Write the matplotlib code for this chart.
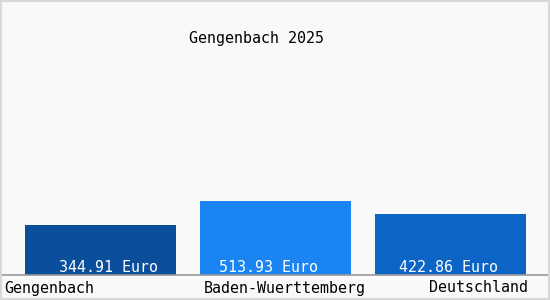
import matplotlib
matplotlib.use('Agg')
import matplotlib.pyplot as plt
from matplotlib.patches import Rectangle

# Daten
title = 'Gengenbach 2025'
categories = ['Gengenbach', 'Baden-Wuerttemberg', 'Deutschland']
values = [344.91, 513.93, 422.86]
value_labels = ['344.91 Euro', '513.93 Euro', '422.86 Euro']
colors = ['#0b4f9c', '#1a84f2', '#0c64c4']

plt.rcParams['font.family'] = ['DejaVu Sans Mono']

fig = plt.figure(figsize=(5.5, 3), dpi=100, facecolor='#f9f9f9')
fig.patches.append(Rectangle((0.001, 0.002), 0.997, 0.995, transform=fig.transFigure,
                             fill=False, edgecolor='#d8d8d8', linewidth=1.5))

# Achse: unten bei y=275 px, oben am Rand
ax = fig.add_axes([0, 25 / 300, 1, 275 / 300])
ax.set_facecolor('none')
ax.set_xlim(0, 550)
ax.set_ylim(0, 275 * 513.93 / 74)
for s in ax.spines.values():
    s.set_visible(False)
ax.set_xticks([])
ax.set_yticks([])

x = [100.5, 275.5, 450.5]
ax.bar(x, values, width=151, color=colors)
ax.axhline(0, color='#999999', linewidth=1.2, clip_on=False, zorder=3)

# Wertebeschriftungen (weiss, unten im Balken)
offsets = [8, -7, -2]
for xi, lab, off in zip(x, value_labels, offsets):
    ax.text(xi + off, 7 * 513.93 / 74, lab, color='white', ha='center', va='center',
            fontsize=10.8)

# Kategorien unter der Achse
fig.text(4 / 550, 1 - 288 / 300, categories[0], ha='left', va='center', fontsize=10.8)
fig.text(284.5 / 550, 1 - 288 / 300, categories[1], ha='center', va='center', fontsize=10.8)
fig.text(528 / 550, 1 - 288 / 300, categories[2], ha='right', va='center', fontsize=10.8)

fig.text(256.5 / 550, 1 - 38 / 300, title, ha='center', va='center', fontsize=10.8)

fig.savefig('out.png', dpi=100, facecolor=fig.get_facecolor())
